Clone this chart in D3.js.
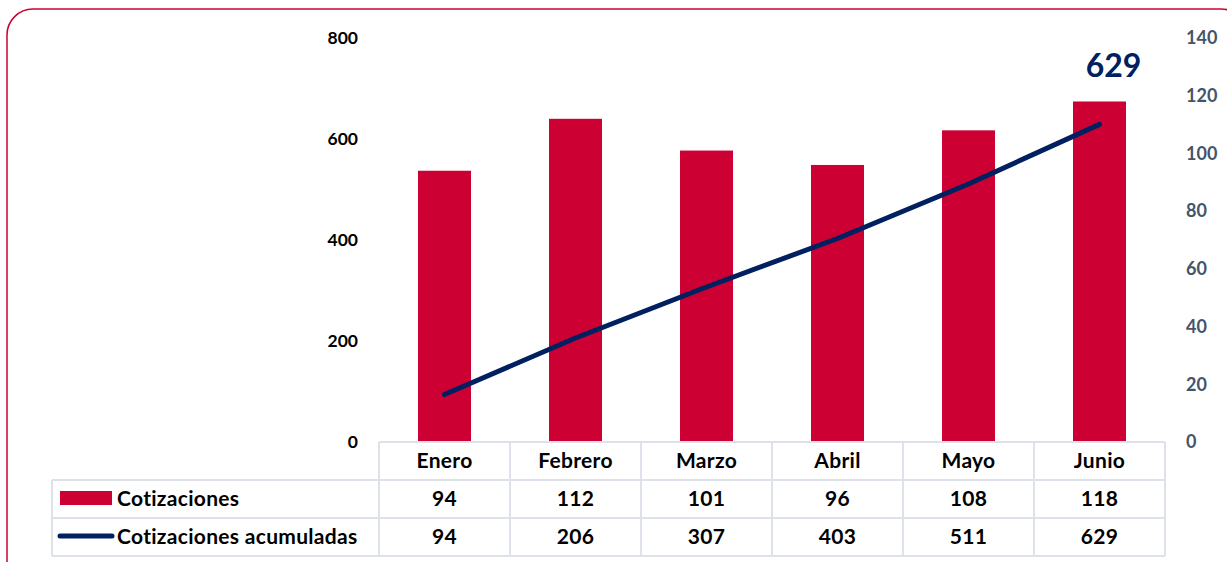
<!DOCTYPE html>
<html>
<head>
<meta charset="utf-8">
<script src="https://cdn.jsdelivr.net/npm/d3@7"></script>
<style>
  body { margin: 0; background: #fff; }
  svg { display: block; font-family: Lato, "Noto Sans", sans-serif; }
</style>
</head>
<body>
<svg id="chart" width="1227" height="562"></svg>
<script>
// data
const months = ["Enero", "Febrero", "Marzo", "Abril", "Mayo", "Junio"];
const cotizaciones = [94, 112, 101, 96, 108, 118];
const acumuladas = [94, 206, 307, 403, 511, 629];
const leftTicks = [0, 200, 400, 600, 800];
const rightTicks = [0, 20, 40, 60, 80, 100, 120, 140];

const svg = d3.select("#chart");

const red = "#cc0033";
const navy = "#002060";
const gridCol = "#dde1ea";

// outer frame
svg.append("rect")
    .attr("x", 7).attr("y", 9)
    .attr("width", 1240).attr("height", 580)
    .attr("rx", 26).attr("ry", 26)
    .attr("fill", "none")
    .attr("stroke", red)
    .attr("stroke-width", 1.5);

const plot = {left: 379, right: 1165, top: 38, bottom: 442};

const x = d3.scaleBand()
    .domain(months)
    .range([plot.left, plot.right])
    .paddingInner(0).paddingOuter(0);

const yLeft = d3.scaleLinear().domain([0, 800]).range([plot.bottom, plot.top]);
const yRight = d3.scaleLinear().domain([0, 140]).range([plot.bottom, plot.top]);

// left axis
const leftAxis = svg.append("g")
    .attr("transform", `translate(${358},0)`)
    .call(d3.axisLeft(yLeft).tickValues(leftTicks).tickSize(0).tickPadding(0));
leftAxis.select(".domain").remove();
leftAxis.selectAll("text")
    .attr("font-size", "17.5px")
    .attr("font-weight", "bold")
    .attr("fill", "#000")
    .attr("font-family", "Lato, sans-serif");

// right axis
const rightAxis = svg.append("g")
    .attr("transform", `translate(${1186},0)`)
    .call(d3.axisRight(yRight).tickValues(rightTicks).tickSize(0).tickPadding(0));
rightAxis.select(".domain").remove();
rightAxis.selectAll("text")
    .attr("font-size", "18px")
    .attr("font-weight", "bold")
    .attr("fill", "#44546a")
    .attr("font-family", "Lato, sans-serif");

// bars (right axis)
const barW = 53;
svg.append("g").selectAll("rect")
    .data(cotizaciones)
    .join("rect")
    .attr("x", (d, i) => x(months[i]) + x.bandwidth() / 2 - barW / 2)
    .attr("y", d => yRight(d))
    .attr("width", barW)
    .attr("height", d => yRight(0) - yRight(d))
    .attr("fill", red);

// line (left axis)
const line = d3.line()
    .x((d, i) => x(months[i]) + x.bandwidth() / 2)
    .y(d => yLeft(d));

svg.append("path")
    .datum(acumuladas)
    .attr("d", line)
    .attr("fill", "none")
    .attr("stroke", navy)
    .attr("stroke-width", 5)
    .attr("stroke-linecap", "round")
    .attr("stroke-linejoin", "round");

// last value label
const last = acumuladas.length - 1;
svg.append("text")
    .attr("x", x(months[last]) + x.bandwidth() / 2 + 14)
    .attr("y", 77)
    .attr("text-anchor", "middle")
    .attr("font-size", "32px")
    .attr("font-weight", "bold")
    .attr("fill", navy)
    .text(acumuladas[last]);

// data table
const rowH = 38;
const tableTop = plot.bottom;
const tableLeft = 52;
const table = svg.append("g");

const hline = (x1, x2, y) => table.append("line")
    .attr("x1", x1).attr("x2", x2).attr("y1", y).attr("y2", y)
    .attr("stroke", gridCol).attr("stroke-width", 2);
const vline = (xx, y1, y2) => table.append("line")
    .attr("x1", xx).attr("x2", xx).attr("y1", y1).attr("y2", y2)
    .attr("stroke", gridCol).attr("stroke-width", 2);

hline(plot.left, plot.right, tableTop);
hline(tableLeft, plot.right, tableTop + rowH);
hline(tableLeft, plot.right, tableTop + rowH * 2);
hline(tableLeft, plot.right, tableTop + rowH * 3);
vline(tableLeft, tableTop + rowH, tableTop + rowH * 3);
months.forEach(m => vline(x(m), tableTop, tableTop + rowH * 3));
vline(plot.right, tableTop, tableTop + rowH * 3);

const cellText = (txt, cx, row, anchor) => table.append("text")
    .attr("x", cx)
    .attr("y", tableTop + rowH * row + rowH / 2 + 7)
    .attr("text-anchor", anchor || "middle")
    .attr("font-size", "21px")
    .attr("letter-spacing", "0.3px")
    .attr("font-weight", "bold")
    .attr("fill", "#000")
    .text(txt);

months.forEach((m, i) => {
    const cx = x(m) + x.bandwidth() / 2;
    cellText(m, cx, 0);
    cellText(cotizaciones[i], cx, 1);
    cellText(acumuladas[i], cx, 2);
});

// legend keys in table
table.append("rect")
    .attr("x", 60).attr("y", tableTop + rowH + 11)
    .attr("width", 52).attr("height", 14)
    .attr("fill", red);
cellText("Cotizaciones", 117, 1, "start");

table.append("line")
    .attr("x1", 60).attr("x2", 112)
    .attr("y1", tableTop + rowH * 2 + 18).attr("y2", tableTop + rowH * 2 + 18)
    .attr("stroke", navy).attr("stroke-width", 5)
    .attr("stroke-linecap", "round");
cellText("Cotizaciones acumuladas", 117, 2, "start");
</script>
</body>
</html>
